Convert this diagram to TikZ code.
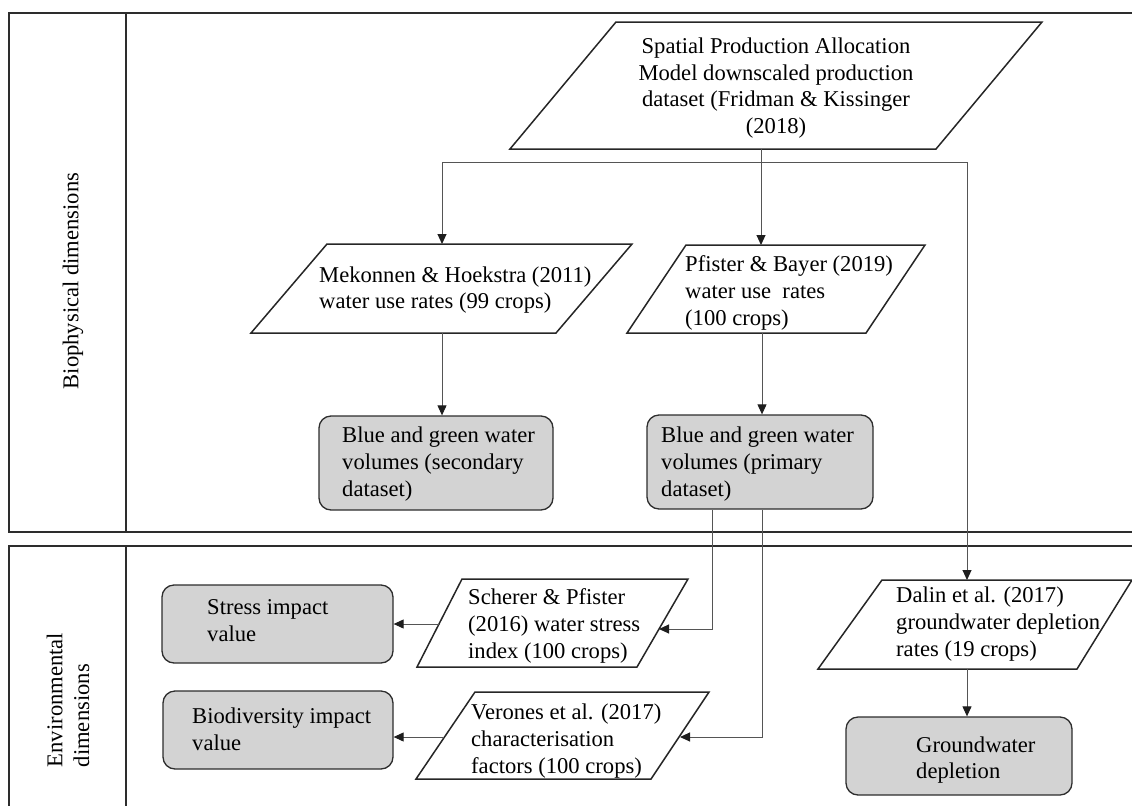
\documentclass[tikz,border=0pt]{standalone}
\usepackage{fontspec}
\setmainfont{Liberation Serif}
\usetikzlibrary{arrows.meta}
\definecolor{boxgray}{RGB}{211,211,211}
\definecolor{framec}{RGB}{45,45,45}
\definecolor{linec}{RGB}{85,85,85}
\definecolor{tipc}{RGB}{30,30,30}
\begin{document}
\begin{tikzpicture}[x=1pt,y=-1pt,
  txt/.style={inner sep=0pt, font=\fontsize{22.6}{26.8}\selectfont, align=left, anchor=west},
  frame/.style={draw=framec, line width=1.5pt},
  para/.style={draw=black!85, line width=1.5pt, line join=miter},
  gbox/.style={draw=framec, fill=boxgray, line width=1.3pt, rounded corners=12pt, inner sep=0pt},
  conn/.style={draw=linec, line width=1pt},
  arr/.style={conn, -{Triangle[length=10pt,width=9pt,color=tipc,fill=tipc]}}
]
\useasboundingbox (0,0) rectangle (1132,806);

% panels
\draw[frame] (1132,13) -- (9,13) -- (9,532) -- (1132,532);
\draw[frame] (126,13) -- (126,532);
\draw[frame] (1132,546) -- (9,546) -- (9,806);
\draw[frame] (126,546) -- (126,806);

\node[txt, anchor=center, rotate=90] (lab1) at (73,281) {Biophysical dimensions};
\node[txt, anchor=center, rotate=90, align=left] (lab2) at (68,700) {Environmental\\dimensions};

% parallelograms
\draw[para] (510,149) -- (616,22) -- (1042,22) -- (936,149) -- cycle;
\node[txt, anchor=center, align=center] (spam) at (776,88) {Spatial Production Allocation\\Model downscaled production\\dataset (Fridman \& Kissinger\\(2018)};
\coordinate (spam-b) at (761,149);

\draw[para] (251,333) -- (327,244) -- (632,244) -- (556,333) -- cycle;
\node[txt] (mek) at (319,290) {Mekonnen \& Hoekstra (2011)\\water use rates (99 crops)};
\coordinate (mek-t) at (442,244);
\coordinate (mek-b) at (442,333);

\draw[para] (627,333) -- (686,245) -- (925,245) -- (866,333) -- cycle;
\node[txt] (pf) at (685,293) {Pfister \& Bayer (2019)\\water use\ \ rates\\(100 crops)};
\coordinate (pf-t) at (761,245);
\coordinate (pf-b) at (762,333);

\draw[para] (417,667) -- (462,579) -- (688,579) -- (637,667) -- cycle;
\node[txt] (sch) at (468,626) {Scherer \& Pfister\\(2016) water stress\\index (100 crops)};
\coordinate (sch-l) at (440,624);
\coordinate (sch-r) at (659,629);

\draw[para] (416,779) -- (475,692) -- (709,692) -- (651,779) -- cycle;
\node[txt] (ver) at (471,741) {Verones et al. (2017)\\characterisation\\factors (100 crops)};
\coordinate (ver-l) at (444,737);
\coordinate (ver-r) at (680,737);

\draw[para] (818,669) -- (882,580) -- (1132,580) -- (1077,669) -- cycle;
\node[txt] (dal) at (896,624) {Dalin et al. (2017)\\groundwater depletion\\rates (19 crops)};
\coordinate (dal-t) at (967,580);
\coordinate (dal-b) at (967,669);

% grey boxes
\node[gbox, minimum width=234pt, minimum height=94pt] (sec) at (436,463) {};
\node[txt] (sect) at (342,464) {Blue and green water\\volumes (secondary\\dataset)};
\node[gbox, minimum width=226pt, minimum height=94pt] (prim) at (760,462) {};
\node[txt] (primt) at (661,464) {Blue and green water\\volumes (primary\\dataset)};
\node[gbox, minimum width=231pt, minimum height=78pt] (stress) at (277.5,624) {};
\node[txt] (stresst) at (207,621) {Stress impact\\value};
\node[gbox, minimum width=230pt, minimum height=78pt] (bio) at (278,730) {};
\node[txt] (biot) at (192,729) {Biodiversity impact\\value};
\node[gbox, minimum width=226pt, minimum height=78pt] (gw) at (959,756) {};
\node[txt] (gwt) at (916,760) {Groundwater\\depletion};

% connectors
\coordinate (split) at (761,162);
\draw[arr] (spam-b) -- (pf-t);
\draw[arr] (split) -| (mek-t);
\draw[arr] (split) -| (dal-t);
\draw[arr] (mek-b) -- (mek-b |- sec.north);
\draw[arr] (pf-b) -- (pf-b |- prim.north);
\draw[arr] ([xshift=-48pt]prim.south) |- (sch-r);
\draw[arr] ([xshift=2pt]prim.south) |- (ver-r);
\draw[arr] (sch-l) -- (sch-l -| stress.east);
\draw[arr] (ver-l) -- (ver-l -| bio.east);
\draw[arr] (dal-b) -- (dal-b |- gw.north);
\end{tikzpicture}
\end{document}
